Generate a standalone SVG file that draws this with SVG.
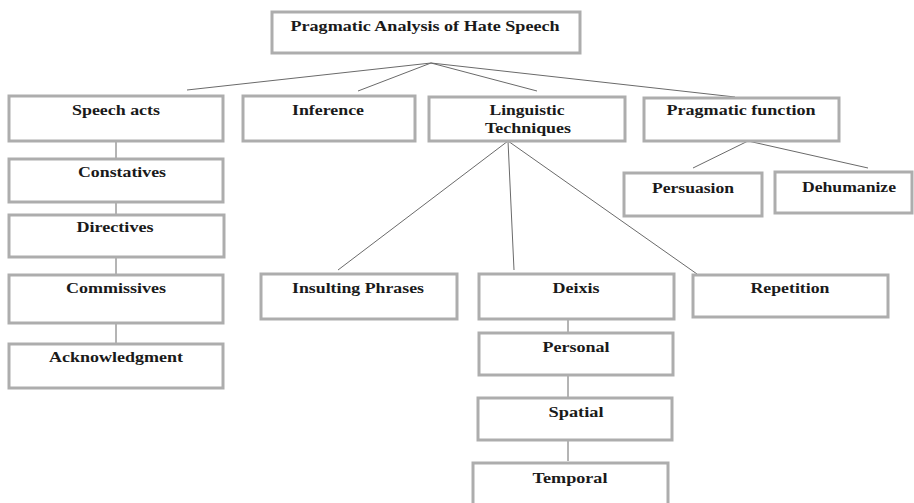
<svg xmlns="http://www.w3.org/2000/svg" width="914" height="503" viewBox="0 0 914 503">
<style>
.box{fill:#fff;stroke:#adadad;stroke-width:3}
.t{font-family:"Liberation Serif","Times New Roman",serif;font-weight:bold;font-size:14px;fill:#1a1a1a;text-anchor:middle}
.c{stroke:#6a6a6a;stroke-width:1;fill:none}
</style>
<rect width="914" height="503" fill="#fff"/>
<g id="connectors">
<line class="c" x1="431" y1="63" x2="187" y2="90"/>
<line class="c" x1="431" y1="63" x2="358" y2="91"/>
<line class="c" x1="431" y1="63" x2="537" y2="91"/>
<line class="c" x1="431" y1="63" x2="735" y2="97"/>
<line class="c" x1="116" y1="141" x2="116" y2="159"/>
<line class="c" x1="116" y1="202" x2="116" y2="215"/>
<line class="c" x1="116" y1="257" x2="116" y2="275"/>
<line class="c" x1="116" y1="323" x2="116" y2="344"/>
<line class="c" x1="508" y1="141" x2="338" y2="270"/>
<line class="c" x1="508" y1="141" x2="514" y2="270"/>
<line class="c" x1="508" y1="141" x2="697" y2="274"/>
<line class="c" x1="748" y1="141" x2="693" y2="168"/>
<line class="c" x1="748" y1="141" x2="868" y2="168"/>
<line class="c" x1="568" y1="314" x2="568" y2="333"/>
<line class="c" x1="568" y1="375" x2="568" y2="398"/>
<line class="c" x1="568" y1="440" x2="568" y2="461"/>
</g>
<g id="root"><rect class="box" x="272" y="12" width="308" height="41"/><text class="t" x="425" y="31" textLength="269" lengthAdjust="spacingAndGlyphs">Pragmatic Analysis of Hate Speech</text></g>
<g id="speech-acts"><rect class="box" x="9" y="96" width="214" height="45"/><text class="t" x="116" y="115" textLength="88" lengthAdjust="spacingAndGlyphs">Speech acts</text></g>
<g id="inference"><rect class="box" x="243" y="96" width="172" height="45"/><text class="t" x="328" y="115" textLength="72" lengthAdjust="spacingAndGlyphs">Inference</text></g>
<g id="linguistic"><rect class="box" x="429" y="97" width="196" height="44"/><text class="t" x="527" y="115" textLength="75" lengthAdjust="spacingAndGlyphs">Linguistic</text><text class="t" x="528" y="133" textLength="86" lengthAdjust="spacingAndGlyphs">Techniques</text></g>
<g id="pragmatic-function"><rect class="box" x="644" y="98" width="195" height="43"/><text class="t" x="741" y="115" textLength="149" lengthAdjust="spacingAndGlyphs">Pragmatic function</text></g>
<g id="constatives"><rect class="box" x="9" y="159" width="214" height="43"/><text class="t" x="122" y="177" textLength="88" lengthAdjust="spacingAndGlyphs">Constatives</text></g>
<g id="directives"><rect class="box" x="9" y="215" width="215" height="42"/><text class="t" x="115" y="232" textLength="77" lengthAdjust="spacingAndGlyphs">Directives</text></g>
<g id="commissives"><rect class="box" x="9" y="275" width="214" height="48"/><text class="t" x="116" y="293" textLength="100" lengthAdjust="spacingAndGlyphs">Commissives</text></g>
<g id="acknowledgment"><rect class="box" x="9" y="344" width="214" height="44"/><text class="t" x="116" y="362" textLength="134" lengthAdjust="spacingAndGlyphs">Acknowledgment</text></g>
<g id="persuasion"><rect class="box" x="624" y="173" width="138" height="43"/><text class="t" x="693" y="193" textLength="82" lengthAdjust="spacingAndGlyphs">Persuasion</text></g>
<g id="dehumanize"><rect class="box" x="775" y="172" width="137" height="41"/><text class="t" x="849" y="192" textLength="94" lengthAdjust="spacingAndGlyphs">Dehumanize</text></g>
<g id="insulting"><rect class="box" x="261" y="274" width="196" height="45"/><text class="t" x="358" y="293" textLength="132" lengthAdjust="spacingAndGlyphs">Insulting Phrases</text></g>
<g id="deixis"><rect class="box" x="479" y="274" width="195" height="45"/><text class="t" x="576" y="293" textLength="47" lengthAdjust="spacingAndGlyphs">Deixis</text></g>
<g id="repetition"><rect class="box" x="693" y="275" width="195" height="42"/><text class="t" x="790" y="293" textLength="79" lengthAdjust="spacingAndGlyphs">Repetition</text></g>
<g id="personal"><rect class="box" x="479" y="333" width="194" height="42"/><text class="t" x="576" y="352" textLength="67" lengthAdjust="spacingAndGlyphs">Personal</text></g>
<g id="spatial"><rect class="box" x="478" y="398" width="194" height="42"/><text class="t" x="576" y="417" textLength="55" lengthAdjust="spacingAndGlyphs">Spatial</text></g>
<g id="temporal"><rect class="box" x="473" y="463" width="195" height="44"/><text class="t" x="570" y="483" textLength="75" lengthAdjust="spacingAndGlyphs">Temporal</text></g>
</svg>
